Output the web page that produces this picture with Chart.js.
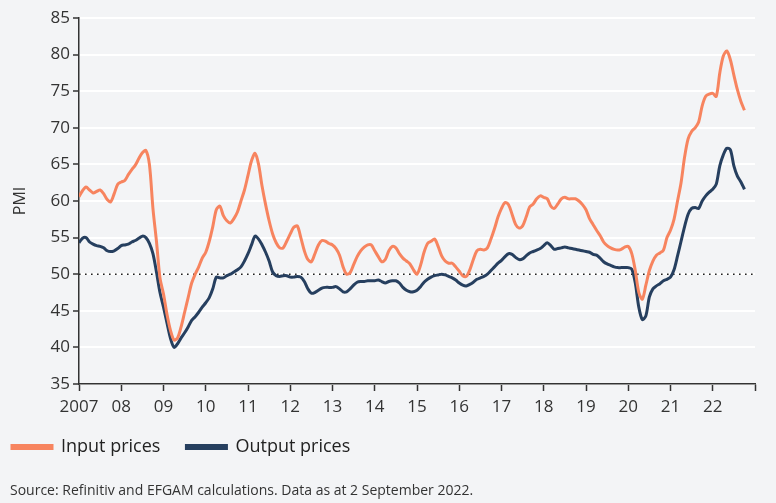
<!DOCTYPE html>
<html>
<head>
<meta charset="utf-8">
<script src="https://cdn.jsdelivr.net/npm/chart.js@4"></script>
<style>
  html, body { margin: 0; padding: 0; background: #f3f4f6; }
  #wrap { position: relative; width: 776px; height: 503px; }
  #source { position: absolute; left: 10px; top: 481px; font: 14px "Open Sans", sans-serif; color: #333; line-height: 18px; }
</style>
</head>
<body>
<div id="wrap">
  <canvas id="chart" width="776" height="503"></canvas>
  <div id="source">Source: Refinitiv and EFGAM calculations. Data as at 2 September 2022.</div>
</div>
<script>
// monthly PMI readings, starting January 2007
var startYear = 2007;
var inputPrices = [
  60.6, 61.4, 61.9, 61.5, 61.1, 61.3, 61.5, 61.0, 60.2, 59.9, 61.0, 62.3,
  62.6, 62.8, 63.6, 64.3, 64.9, 65.8, 66.6, 66.9, 65.0, 59.0, 54.5, 49.5,
  47.3, 44.5, 42.3, 41.0, 41.3, 42.8, 44.8, 46.8, 48.8, 50.0, 51.0, 52.2,
  53.0, 54.5, 56.5, 58.8, 59.3, 58.0, 57.3, 57.0, 57.6, 58.5, 60.0, 61.5,
  63.5, 65.5, 66.5, 65.0, 62.0, 59.5, 57.3, 55.5, 54.3, 53.6, 53.6, 54.5,
  55.5, 56.4, 56.6, 55.0, 53.2, 52.0, 51.7, 52.8, 54.0, 54.6, 54.5, 54.2,
  54.0, 53.5, 52.6, 51.0, 50.0, 50.2, 51.3, 52.4, 53.2, 53.7, 54.0, 54.0,
  53.2, 52.4, 51.7, 52.0, 53.2, 53.8, 53.6, 52.8, 52.2, 51.8, 51.4, 50.6,
  50.0, 51.2, 53.0, 54.2, 54.5, 54.8, 53.8, 52.5, 51.8, 51.5, 51.5, 51.0,
  50.4, 49.8, 49.7, 50.6, 52.0, 53.2, 53.4, 53.3, 53.6, 54.8, 56.2, 57.8,
  59.0, 59.8, 59.5, 58.2, 56.8, 56.3, 56.6, 57.8, 59.2, 59.6, 60.3, 60.7,
  60.5, 60.3, 59.3, 59.0, 59.6, 60.3, 60.5, 60.3, 60.3, 60.3, 60.0, 59.5,
  58.8, 57.6, 56.8, 56.0, 55.3, 54.4, 53.9, 53.6, 53.4, 53.3, 53.4, 53.7,
  53.8, 52.8, 50.5, 47.5, 46.6, 48.5, 50.5, 51.8, 52.6, 52.9, 53.3, 55.0,
  56.0, 57.5, 60.0, 62.5, 66.0, 68.5, 69.5, 70.0, 70.8, 73.0, 74.3, 74.6,
  74.7, 74.3, 77.5, 79.8, 80.5, 79.3, 77.2, 75.2, 73.6, 72.4
];
var outputPrices = [
  54.3, 54.9, 55.0, 54.4, 54.1, 53.9, 53.8, 53.6, 53.2, 53.1, 53.2, 53.5,
  53.9, 54.0, 54.1, 54.4, 54.6, 54.9, 55.2, 55.0, 54.2, 52.8, 50.3, 47.5,
  45.5, 43.3, 41.2, 40.0, 40.5, 41.3, 42.0, 42.8, 43.7, 44.2, 44.8, 45.5,
  46.1, 46.8, 48.0, 49.6, 49.5, 49.5, 49.8, 50.0, 50.3, 50.6, 51.0, 51.8,
  52.8, 54.0, 55.2, 54.8, 54.0, 53.0, 51.8, 50.3, 49.8, 49.7, 49.8, 49.8,
  49.6, 49.6, 49.7, 49.6, 49.0, 48.0, 47.4, 47.5, 47.8, 48.1, 48.2, 48.2,
  48.2, 48.3, 48.0, 47.6, 47.6, 48.0, 48.5, 48.9, 49.0, 49.0, 49.1, 49.1,
  49.1, 49.2, 49.0, 48.8, 49.0, 49.1, 49.1, 48.8, 48.2, 47.8, 47.6, 47.6,
  47.8, 48.3, 48.9, 49.3, 49.6, 49.8, 49.9, 50.0, 49.9, 49.7, 49.5, 49.2,
  48.8, 48.5, 48.4, 48.6, 48.9, 49.3, 49.5, 49.7, 50.0, 50.5, 51.0, 51.5,
  51.9, 52.4, 52.8, 52.7, 52.3, 52.0, 52.1, 52.5, 52.9, 53.1, 53.3, 53.5,
  53.9, 54.3, 53.9, 53.4, 53.5, 53.6, 53.7, 53.6, 53.5, 53.4, 53.3, 53.2,
  53.1, 53.0, 52.7, 52.6, 52.2, 51.7, 51.4, 51.2, 51.0, 50.9, 50.9, 50.9,
  50.9, 50.7, 48.8, 45.5, 43.8, 44.3, 46.9, 48.0, 48.4, 48.7, 49.1, 49.3,
  49.6, 50.6, 52.5, 54.5, 56.5, 58.2, 59.0, 59.1, 59.0, 60.0, 60.7, 61.2,
  61.6, 62.3, 64.8, 66.3, 67.2, 67.0, 64.8, 63.4, 62.6, 61.6
];
var yearTicks = [2007, 2008, 2009, 2010, 2011, 2012, 2013, 2014, 2015, 2016, 2017, 2018, 2019, 2020, 2021, 2022, 2023];
var threshold = 50;

function toPoints(arr) {
  return arr.map(function (v, i) { return { x: startYear + i / 12, y: v }; });
}

var font = '"Open Sans", sans-serif';
var dark = '#333333';

new Chart(document.getElementById('chart'), {
  type: 'line',
  data: {
    datasets: [
      {
        label: 'Input prices',
        data: toPoints(inputPrices),
        borderColor: '#f7845f',
        backgroundColor: '#f7845f',
        borderWidth: 3,
        pointRadius: 0,
        tension: 0.3
      },
      {
        label: 'Output prices',
        data: toPoints(outputPrices),
        borderColor: '#263f5f',
        backgroundColor: '#263f5f',
        borderWidth: 3,
        pointRadius: 0,
        tension: 0.3
      },
      {
        label: 'threshold',
        data: [{ x: yearTicks[0], y: threshold }, { x: yearTicks[yearTicks.length - 1], y: threshold }],
        borderColor: '#222',
        borderWidth: 1.6,
        borderDash: [1.6, 4.4],
        pointRadius: 0
      }
    ]
  },
  options: {
    responsive: false,
    animation: false,
    // negative left padding lets the legend start near the edge with wide item gaps
    layout: { padding: { top: 18, right: 21, left: -14, bottom: 37 } },
    plugins: {
      tooltip: { enabled: false },
      legend: {
        position: 'bottom',
        align: 'start',
        labels: {
          boxWidth: 40,
          boxHeight: 3,
          padding: 26,
          color: '#222',
          font: { family: font, size: 18 },
          filter: function (item) { return item.text !== 'threshold'; }
        }
      }
    },
    scales: {
      x: {
        type: 'linear',
        min: 2007,
        max: 2023,
        afterBuildTicks: function (scale) {
          scale.ticks = yearTicks.map(function (v) { return { value: v }; });
        },
        afterFit: function (scale) { scale.height = 28; },
        ticks: {
          padding: 6,
          color: dark,
          font: { family: font, size: 17 },
          maxRotation: 0,
          autoSkip: false,
          callback: function (v) {
            if (v === 2007) return '2007';
            if (v === 2023) return '';
            return String(v).slice(2);
          }
        },
        grid: { drawOnChartArea: false, drawTicks: true, tickLength: 7, tickColor: dark, tickWidth: 1.5 },
        border: { color: dark, width: 1.5 }
      },
      y: {
        min: 35,
        max: 85,
        afterFit: function (scale) { scale.width = 93; },
        ticks: {
          stepSize: 5,
          padding: 3,
          color: dark,
          font: { family: font, size: 17 }
        },
        title: {
          display: true,
          text: 'PMI',
          color: dark,
          font: { family: font, size: 16 },
          padding: { top: 25, bottom: 0 }
        },
        grid: { color: '#ffffff', lineWidth: 2, drawTicks: true, tickLength: 6, tickColor: dark, tickWidth: 1.5 },
        border: { color: dark, width: 1.5 }
      }
    }
  }
});
</script>
</body>
</html>
